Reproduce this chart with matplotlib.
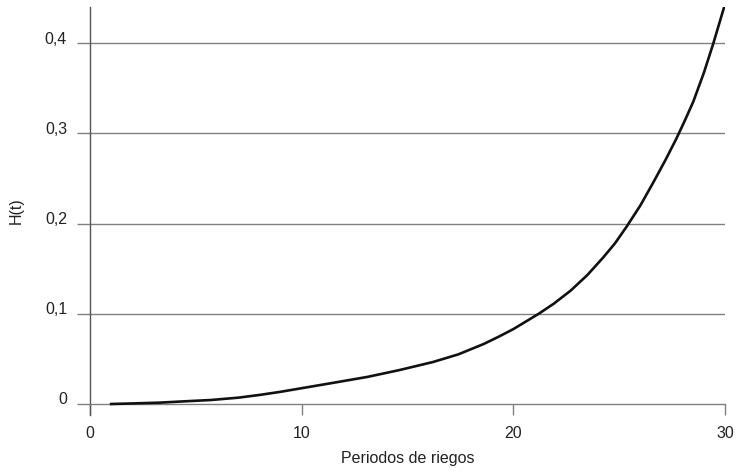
import matplotlib
matplotlib.use("Agg")
import matplotlib.pyplot as plt
import matplotlib.transforms as mtransforms
from matplotlib.ticker import FuncFormatter

plt.rcParams['font.family'] = ['Liberation Sans', 'DejaVu Sans']

# H(t)
periodos = [1.0, 2.0, 3.3, 4.5, 5.7, 7.0, 8.0, 9.0, 10.0, 11.5, 13.1, 14.6, 16.2, 17.4,
            18.6, 19.3, 20.0, 20.6, 21.2, 21.9, 22.7, 23.5, 24.25, 24.8, 25.35, 26.0,
            26.6, 27.2, 27.7, 28.1, 28.5, 29.0, 29.44, 29.96]
h_t = [0.0, 0.0006, 0.0015, 0.003, 0.0044, 0.007, 0.010, 0.0135, 0.0175, 0.0235, 0.030,
       0.0375, 0.0465, 0.055, 0.0665, 0.0745, 0.083, 0.0915, 0.100, 0.111, 0.1255, 0.143,
       0.1625, 0.178, 0.1965, 0.220, 0.245, 0.271, 0.294, 0.314, 0.335, 0.367, 0.399, 0.440]

x_ticks = [0, 10, 20, 30]
y_ticks = [0, 0.1, 0.2, 0.3, 0.4]

grey = '#808080'
txt = '#222222'

fig = plt.figure(figsize=(7.36, 4.71), dpi=100)
ax = fig.add_axes([90 / 736, 56 / 471, 635 / 736, 408 / 471])

ax.plot(periodos, h_t, color='#111111', lw=1.9, solid_joinstyle='round', zorder=3)

ax.set_xlim(0, 30)
ax.set_ylim(-0.0122, 0.44)

for yv in y_ticks[1:]:
    ax.axhline(yv, color=grey, lw=1.0, zorder=1)

ax.spines['top'].set_visible(False)
ax.spines['right'].set_visible(False)
ax.spines['bottom'].set_position(('data', 0))
ax.spines['bottom'].set_color(grey)
ax.spines['bottom'].set_linewidth(1.0)
ax.spines['left'].set_color('#555555')
ax.spines['left'].set_linewidth(1.0)

ax.set_xticks(x_ticks)
ax.set_yticks(y_ticks)
ax.yaxis.set_major_formatter(FuncFormatter(lambda v, p: '0' if v == 0 else f'{v:.1f}'.replace('.', ',')))
ax.tick_params(axis='x', direction='out', length=8, width=1.0, color=grey, pad=8, labelsize=11.5, labelcolor=txt)
ax.tick_params(axis='y', direction='out', length=9.5, width=1.0, color=grey, pad=7, labelsize=11.5, labelcolor=txt)

# labels sit a little above their lines
up = mtransforms.ScaledTranslation(0, 4 / 100, fig.dpi_scale_trans)
for lbl in ax.get_yticklabels():
    lbl.set_verticalalignment('center')
    lbl.set_transform(lbl.get_transform() + up)

ax.set_xlabel('Periodos de riegos', fontsize=11.5, color=txt, labelpad=7)
ax.set_ylabel('H(t)', fontsize=11.5, color=txt, labelpad=15)

fig.savefig('out.png', dpi=100)
